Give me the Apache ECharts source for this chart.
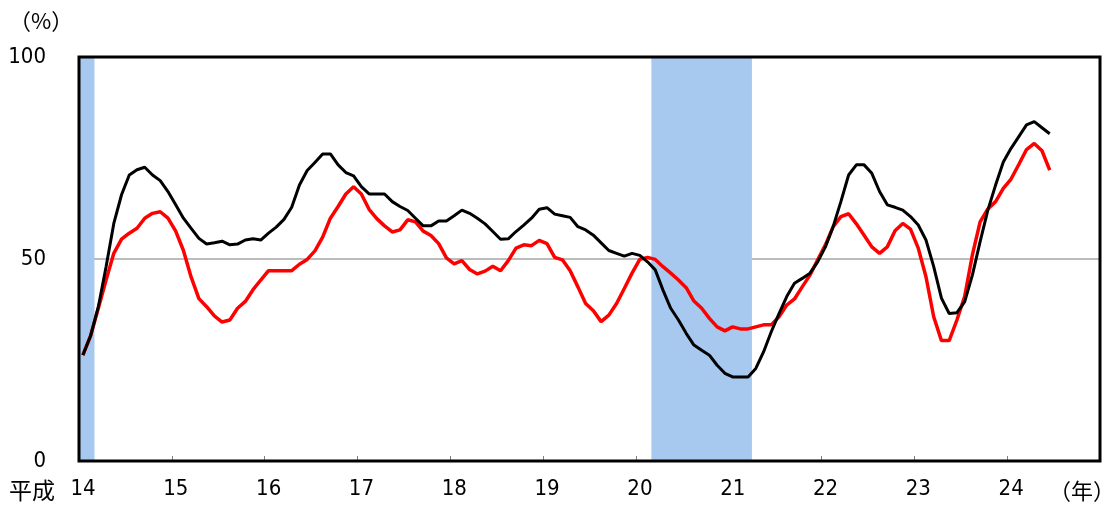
<!DOCTYPE html>
<html><head><meta charset="utf-8">
<script src="https://cdn.jsdelivr.net/npm/echarts@6/dist/echarts.min.js"></script>
<style>html,body{margin:0;padding:0;background:#fff}#c{width:1106px;height:508px}</style>
</head><body><div id="c"></div>
<script>
// monthly series, Jan 2002 (平成14) .. Jun 2012
const blackSeries = [26.2,31.0,38.2,48.1,58.8,65.9,70.8,72.1,72.7,70.8,69.4,66.7,
 63.4,60.1,57.6,55.1,53.7,54.0,54.4,53.5,53.7,54.7,55.0,54.7,
 56.4,57.9,59.8,62.8,68.3,71.9,73.9,76.0,76.0,73.3,71.4,70.6,
 67.9,66.1,66.1,66.1,64.2,63.0,62.0,60.1,58.2,58.2,59.4,59.4,
 60.7,62.1,61.3,60.1,58.7,56.8,54.9,55.0,56.8,58.4,60.1,62.3,
 62.7,61.1,60.7,60.3,58.0,57.2,55.9,54.0,52.1,51.4,50.7,51.4,
 50.9,49.3,47.3,42.3,37.8,34.9,31.6,28.7,27.4,26.2,23.7,21.7,
 20.8,20.8,20.8,22.9,27.0,32.0,36.5,40.7,44.0,45.2,46.5,49.3,
 53.0,58.0,64.2,70.8,73.3,73.3,71.2,66.7,63.4,62.8,62.1,60.5,
 58.4,54.7,48.1,40.3,36.5,36.7,39.4,46.0,54.3,62.1,68.3,74.0,
 77.4,80.3,83.2,84.0,82.5,81.0];
const redSeries = [26.2,31.0,37.8,44.8,51.4,54.9,56.4,57.6,60.1,61.3,61.7,60.1,
 56.9,52.1,45.5,40.2,38.2,35.9,34.4,34.9,37.8,39.5,42.4,44.8,
 47.1,47.1,47.1,47.1,48.7,49.9,52.0,55.4,60.1,63.0,66.1,67.9,
 66.1,62.3,60.0,58.2,56.7,57.2,59.7,59.2,56.9,55.8,53.8,50.3,
 48.8,49.6,47.4,46.3,47.0,48.2,47.1,49.6,52.7,53.5,53.3,54.6,
 53.8,50.4,49.8,47.1,43.1,39.0,37.2,34.5,36.1,39.0,42.7,46.5,
 49.9,50.4,49.9,48.1,46.5,44.8,42.9,39.6,37.8,35.3,33.2,32.2,
 33.2,32.7,32.7,33.2,33.7,33.7,35.7,38.6,40.1,43.1,46.0,49.8,
 53.5,58.0,60.5,61.2,58.7,55.9,53.0,51.4,53.0,57.0,58.8,57.4,
 52.7,45.6,35.7,29.8,29.8,34.9,40.7,51.0,59.2,62.4,64.2,67.5,
 69.8,73.4,77.1,78.6,76.8,72.0];
const yearLabels = ['14','15','16','17','18','19','20','21','22','23','24'];
const recessionBands = [[0, 2], [74, 87]]; // month offsets from Jan 2002

const toPts = arr => arr.map((v, i) => [i + 0.5, v]);
const numFont = '"Liberation Sans Narrow","DejaVu Sans Condensed","Liberation Sans",sans-serif';
const cjkFont = '"Noto Sans CJK JP",sans-serif';
const chart = echarts.init(document.getElementById('c'), null, {renderer: 'canvas'});
chart.setOption({
  animation: false,
  grid: {left: 79, top: 57, right: 6, bottom: 47, show: true, borderColor: '#000', borderWidth: 3, backgroundColor: 'transparent', z: 10},
  xAxis: {
    type: 'value', min: 0, max: 132, interval: 12,
    axisLine: {show: false},
    axisTick: {show: true, inside: true, length: 5, lineStyle: {color: '#808080', width: 1}},
    splitLine: {show: false},
    axisLabel: {
      color: '#000', fontSize: 22, fontFamily: numFont, margin: 17, padding: [0, 0, 0, 8],
      showMaxLabel: false,
      formatter: v => yearLabels[v / 12] || ''
    }
  },
  yAxis: {
    type: 'value', min: 0, max: 100, interval: 50,
    axisLine: {show: false},
    axisTick: {show: true, inside: true, length: 5, lineStyle: {color: '#808080', width: 1}},
    splitLine: {show: true, lineStyle: {color: '#a6a6a6', width: 1.5}},
    axisLabel: {color: '#000', fontSize: 22, fontFamily: numFont, margin: 33}
  },
  graphic: [
    {type: 'text', left: 9, top: 10, style: {text: '（%）', fontSize: 22, fill: '#000', fontFamily: cjkFont}},
    {type: 'text', left: 9, top: 479, style: {text: '平成', fontSize: 23, fill: '#000', fontFamily: cjkFont}},
    {type: 'text', left: 1049, top: 480, style: {text: '（年）', fontSize: 22, fill: '#000', fontFamily: cjkFont}}
  ],
  series: [
    {
      type: 'line', data: toPts(redSeries), symbol: 'none', z: 3,
      lineStyle: {color: '#ff0000', width: 3.5},
      markArea: {
        silent: true,
        itemStyle: {color: '#a7c9ef'},
        data: recessionBands.map(b => [{xAxis: b[0]}, {xAxis: b[1]}])
      }
    },
    {
      type: 'line', data: toPts(blackSeries), symbol: 'none', z: 4,
      lineStyle: {color: '#000', width: 3}
    }
  ]
});
</script></body></html>
